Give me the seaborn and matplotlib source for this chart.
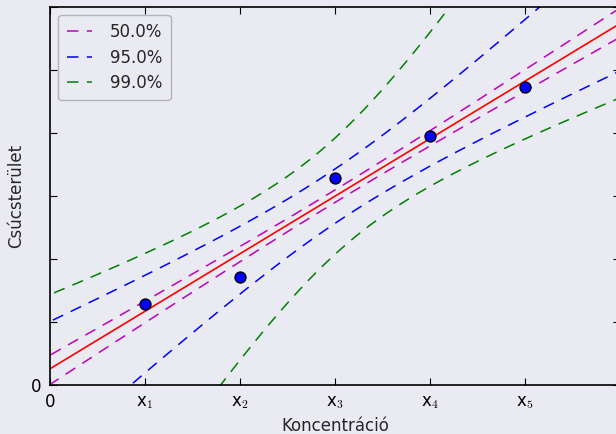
import numpy as np
import pandas as pd
import matplotlib
matplotlib.use("Agg")
import matplotlib.pyplot as plt
import seaborn as sns

# kalibrációs pontok (leolvasva)
konc = [1, 2, 3, 4, 5]
terulet = [1.29, 1.71, 3.285, 3.95, 4.73]
szintek = ["50.0%", "95.0%", "99.0%"]
t_ertekek = [0.7649, 3.1824, 5.8409]   # Student t, dof = 3
szinek = ["m", "b", "g"]
x_tick_labels = ["0", r"x$_{1}$", r"x$_{2}$", r"x$_{3}$", r"x$_{4}$", r"x$_{5}$"]

sns.set_style("dark", {
    "axes.facecolor": "#EAEAF2",
    "axes.edgecolor": "black",
    "xtick.bottom": True, "xtick.top": True,
    "ytick.left": True, "ytick.right": True,
    "xtick.direction": "in", "ytick.direction": "in",
    "xtick.color": "black", "ytick.color": "black",
})
plt.rcParams["font.family"] = ["DejaVu Sans"]
plt.rcParams["mathtext.fontset"] = "cm"

x = np.array(konc, dtype=float)
y = np.array(terulet)
n = len(x)
Sxx = ((x - x.mean()) ** 2).sum()
b = ((x - x.mean()) * (y - y.mean())).sum() / Sxx
a = y.mean() - b * x.mean()
s = np.sqrt(((y - (a + b * x)) ** 2).sum() / (n - 2))

fig = plt.figure(figsize=(6.16, 4.34), dpi=100, facecolor="#EAEAF2")
ax = fig.add_axes([50 / 616, 49 / 434, 570 / 616, 378.5 / 434])

# sávok (inverz becslés konfidencia intervalluma)
yy = np.linspace(-2, 8, 600)
xc = (yy - a) / b
dash = (0, (7.5, 5.5))
for lab, t, c in zip(szintek, t_ertekek, szinek):
    h = t * s / b * np.sqrt(1 / n + (yy - y.mean()) ** 2 / (b ** 2 * Sxx))
    ax.plot(xc - h, yy, color=c, ls=dash, lw=1.1, label=lab)
    ax.plot(xc + h, yy, color=c, ls=dash, lw=1.1)

xx = np.array([-1.0, 7.0])
sns.lineplot(x=xx, y=a + b * xx, color="red", lw=1.2, ax=ax)
sns.scatterplot(x=konc, y=terulet, color="blue", edgecolor="black", linewidth=1,
                s=62, zorder=5, ax=ax)

ax.set_xlim(0, 6)
ax.set_ylim(0, 6)
ax.set_xticks(range(6))
ax.set_xticklabels(x_tick_labels, fontsize=12)
ax.set_yticks(range(7))
ax.set_yticklabels(["0"] + [""] * 6, fontsize=12)
ax.tick_params(length=5, width=0.8, pad=6)
for sp in ax.spines.values():
    sp.set_linewidth(1.2)
ax.set_xlabel("Koncentráció", fontsize=12, labelpad=4)
ax.set_ylabel("Csúcsterület", fontsize=12, labelpad=4)

ax.legend(loc="upper left", fontsize=12, handlelength=1.5, handletextpad=1.1,
          labelspacing=0.45, borderpad=0.5, fancybox=True,
          framealpha=0.5, edgecolor="gray", borderaxespad=0.5)

fig.savefig("out.png", dpi=100, facecolor=fig.get_facecolor())
